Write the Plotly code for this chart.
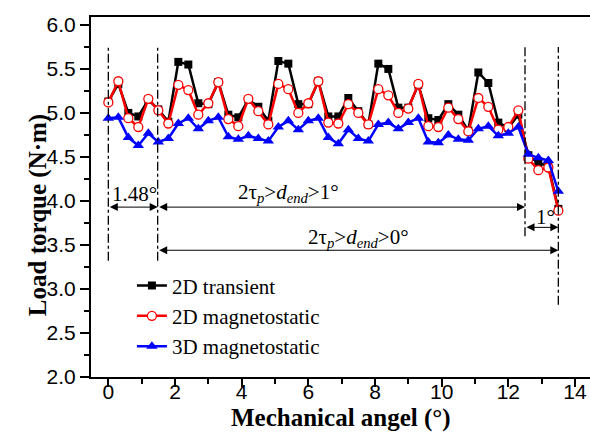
import plotly.graph_objects as go

angle = [0.0, 0.3, 0.6, 0.9, 1.2, 1.5, 1.8, 2.1, 2.4, 2.7, 3.0, 3.3, 3.6, 3.9, 4.2, 4.5,
         4.8, 5.1, 5.4, 5.7, 6.0, 6.3, 6.6, 6.9, 7.2, 7.5, 7.8, 8.1, 8.4, 8.7, 9.0, 9.3,
         9.6, 9.9, 10.2, 10.5, 10.8, 11.1, 11.4, 11.7, 12.0, 12.3, 12.6, 12.9, 13.2, 13.5]

transient_2d = [5.13, 5.33, 5.00, 4.96, 5.15, 5.04, 4.90, 5.58, 5.55, 5.11, 5.10, 5.35, 4.98, 4.95, 5.15, 5.07,
                4.91, 5.59, 5.56, 5.10, 5.10, 5.36, 4.96, 4.96, 5.17, 5.02, 4.87, 5.56, 5.50, 5.06, 5.06, 5.32,
                4.94, 4.92, 5.10, 4.98, 4.80, 5.46, 5.34, 4.89, 4.83, 4.98, 4.52, 4.43, 4.40, 3.91]

magnetostatic_2d = [5.12, 5.36, 4.94, 4.84, 5.16, 5.03, 4.88, 5.32, 5.26, 4.98, 5.11, 5.35, 4.93, 4.85, 5.16, 5.02,
                    4.87, 5.33, 5.27, 5.00, 5.11, 5.36, 4.89, 4.88, 5.10, 5.00, 4.87, 5.27, 5.20, 5.00, 5.05, 5.33,
                    4.85, 4.84, 5.06, 4.93, 4.79, 5.17, 5.07, 4.81, 4.84, 5.03, 4.48, 4.35, 4.38, 3.89]

magnetostatic_3d = [4.94, 4.95, 4.72, 4.63, 4.77, 4.67, 4.71, 4.88, 4.94, 4.82, 4.91, 4.95, 4.73, 4.70, 4.74, 4.71,
                    4.68, 4.84, 4.91, 4.81, 4.91, 4.94, 4.72, 4.65, 4.81, 4.71, 4.68, 4.87, 4.89, 4.82, 4.89, 4.94,
                    4.67, 4.66, 4.75, 4.70, 4.69, 4.82, 4.85, 4.74, 4.77, 4.84, 4.53, 4.49, 4.46, 4.11]

series_names = ["2D transient", "2D magnetostatic", "3D magnetostatic"]

# marker lines (vertical dash-dot): x, y_top, y_bottom
vlines_x = [0.0, 1.48, 12.5, 13.5]
vlines_top = [5.75, 5.75, 5.75, 5.75]
vlines_bottom = [3.32, 3.32, 3.60, 2.82]

# dimension arrows: x_start, x_end, y
arrows = [(0.0, 1.48, 3.93), (1.48, 12.5, 3.93), (12.5, 13.5, 3.70), (1.48, 13.5, 3.44)]
labels = [("1.48°", 0.77, 4.08),
          ("2τ<sub><i>p</i></sub>&gt;<i>d</i><sub><i>end</i></sub>&gt;1°", 5.39, 4.09),
          ("1°", 13.1, 3.82),
          ("2τ<sub><i>p</i></sub>&gt;<i>d</i><sub><i>end</i></sub>&gt;0°", 7.49, 3.58)]

serif = "Liberation Serif, Times New Roman, serif"
sans = "Liberation Sans, Arial, sans-serif"

fig = go.Figure()
fig.add_trace(go.Scatter(x=angle, y=transient_2d, name=series_names[0], mode="lines+markers",
                         line=dict(color="black", width=2.5),
                         marker=dict(symbol="square", size=8, color="black")))
fig.add_trace(go.Scatter(x=angle, y=magnetostatic_2d, name=series_names[1], mode="lines+markers",
                         line=dict(color="red", width=2.5),
                         marker=dict(symbol="circle", size=9, color="white", line=dict(color="red", width=1.3))))
fig.add_trace(go.Scatter(x=angle, y=magnetostatic_3d, name=series_names[2], mode="lines+markers",
                         line=dict(color="blue", width=2.5),
                         marker=dict(symbol="triangle-up", size=10, color="blue")))

for x, yt, yb in zip(vlines_x, vlines_top, vlines_bottom):
    fig.add_shape(type="line", x0=x, x1=x, y0=yb, y1=yt, xref="x", yref="y",
                  line=dict(color="black", width=1.3, dash="dashdot"))

for x0, x1, y in arrows:
    fig.add_annotation(x=x1, y=y, ax=x0, ay=y, xref="x", yref="y", axref="x", ayref="y",
                       text="", showarrow=True, arrowhead=2, arrowside="end+start",
                       arrowsize=1.6, arrowwidth=1, arrowcolor="black", standoff=0, startstandoff=0)

for t, x, y in labels:
    fig.add_annotation(x=x, y=y, xref="x", yref="y", text=t, showarrow=False,
                       font=dict(family=serif, size=21, color="black"))

fig.add_annotation(x=-0.138, y=0.45, xref="paper", yref="paper", text="<b>Load torque (N·m)</b>",
                   textangle=-90, showarrow=False, font=dict(family=serif, size=25, color="black"))
fig.add_annotation(x=0.5, y=-0.113, xref="paper", yref="paper", text="<b>Mechanical angel (°)</b>",
                   showarrow=False, yanchor="middle", font=dict(family=serif, size=25, color="black"))

fig.update_layout(
    width=590, height=441,
    margin=dict(l=91, r=0, t=17, b=64),
    plot_bgcolor="white", paper_bgcolor="white",
    showlegend=True,
    legend=dict(x=0.082, y=0.31, xanchor="left", yanchor="top", bgcolor="rgba(0,0,0,0)",
                font=dict(family=serif, size=21, color="black"), tracegroupgap=0),
    xaxis=dict(range=[-0.52, 14.45], tickmode="array", tickvals=[0, 2, 4, 6, 8, 10, 12, 14],
               showgrid=False, zeroline=False, showline=True, linecolor="black", linewidth=2,
               mirror=True, ticks="outside", ticklen=8, tickwidth=1.5, tickcolor="black",
               ticklabelstandoff=-13,
               minor=dict(dtick=1, tick0=0, ticks="outside", ticklen=5, tickwidth=1.5, tickcolor="black"),
               tickfont=dict(family=sans, size=21, color="black")),
    yaxis=dict(range=[2.0, 6.09], tickmode="array", tickvals=[2.0, 2.5, 3.0, 3.5, 4.0, 4.5, 5.0, 5.5, 6.0],
               tickformat=".1f", showgrid=False, zeroline=False, showline=True, linecolor="black",
               linewidth=2, ticks="outside", ticklen=9, tickwidth=1.5, tickcolor="black",
               minor=dict(dtick=0.25, tick0=2.0, ticks="outside", ticklen=5, tickwidth=1.5, tickcolor="black"),
               tickfont=dict(family=sans, size=21, color="black")),
)

fig.write_html("out.html")
